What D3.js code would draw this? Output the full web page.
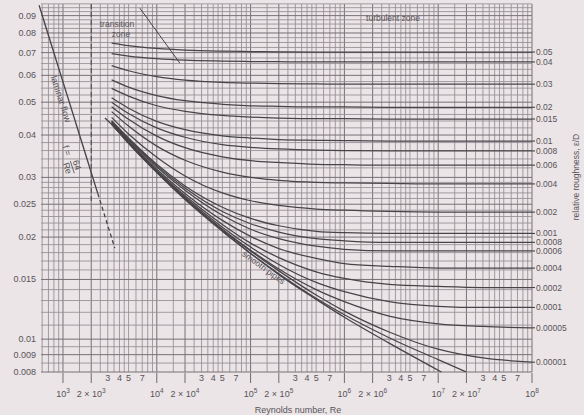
<!DOCTYPE html>
<html><head><meta charset="utf-8">
<script src="https://cdn.jsdelivr.net/npm/d3@7"></script>
<style>body{margin:0;background:#ebe5e8}svg{display:block}</style>
</head><body>
<script>
// ---------- data ----------
const reGrid = [3300, 5000, 1e4, 2e4, 5e4, 1e5, 2e5, 5e5, 1e6, 3e6, 1e7, 3e7, 1e8];
const roughLabels = ["0.05","0.04","0.03","0.02","0.015","0.01","0.008","0.006","0.004","0.002",
  "0.001","0.0008","0.0006","0.0004","0.0002","0.0001","0.00005","0.00001"];
const f_0_05    = [0.0747,0.0734,0.0720,0.0712,0.0707,0.0705,0.0704,0.0703,0.0703,0.0703,0.0703,0.0703,0.0703];
const f_0_04    = [0.0695,0.0684,0.0672,0.0665,0.0661,0.0659,0.0658,0.0657,0.0657,0.0657,0.0657,0.0657,0.0657];
const f_0_03    = [0.0641,0.0619,0.0595,0.0581,0.0572,0.0569,0.0567,0.0566,0.0565,0.0565,0.0565,0.0565,0.0565];
const f_0_02    = [0.0582,0.0554,0.0523,0.0505,0.0493,0.0488,0.0486,0.0484,0.0484,0.0483,0.0483,0.0483,0.0483];
const f_0_015   = [0.0549,0.0521,0.0488,0.0470,0.0457,0.0452,0.0449,0.0447,0.0447,0.0446,0.0446,0.0446,0.0446];
const f_0_01    = [0.0515,0.0480,0.0439,0.0415,0.0398,0.0392,0.0388,0.0386,0.0385,0.0384,0.0384,0.0384,0.0384];
const f_0_008   = [0.0500,0.0463,0.0420,0.0394,0.0375,0.0368,0.0364,0.0361,0.0360,0.0359,0.0359,0.0359,0.0359];
const f_0_006   = [0.0485,0.0445,0.0397,0.0367,0.0345,0.0336,0.0332,0.0328,0.0327,0.0326,0.0326,0.0326,0.0326];
const f_0_004   = [0.0469,0.0425,0.0371,0.0337,0.0311,0.0300,0.0294,0.0290,0.0289,0.0288,0.0287,0.0287,0.0287];
const f_0_002   = [0.0451,0.0403,0.0344,0.0303,0.0270,0.0256,0.0248,0.0242,0.0240,0.0238,0.0237,0.0237,0.0237];
const f_0_001   = [0.0441,0.0392,0.0328,0.0283,0.0245,0.0227,0.0216,0.0208,0.0206,0.0205,0.0205,0.0205,0.0205];
const f_0_0008  = [0.0439,0.0389,0.0325,0.0279,0.0238,0.0219,0.0207,0.0198,0.0195,0.0193,0.0193,0.0193,0.0193];
const f_0_0006  = [0.0437,0.0387,0.0322,0.0275,0.0232,0.0211,0.0198,0.0188,0.0184,0.0182,0.0182,0.0182,0.0182];
const f_0_0004  = [0.0435,0.0384,0.0317,0.0269,0.0224,0.0201,0.0185,0.0173,0.0167,0.0164,0.0162,0.0162,0.0162];
const f_0_0002  = [0.0433,0.0382,0.0314,0.0265,0.0218,0.0192,0.0174,0.0158,0.0151,0.0145,0.0143,0.0142,0.0142];
const f_0_0001  = [0.0431,0.0380,0.0313,0.0262,0.0214,0.0187,0.0166,0.0147,0.0138,0.0129,0.0125,0.0124,0.0124];
const f_0_00005 = [0.0431,0.0379,0.0311,0.0260,0.0211,0.0183,0.0161,0.0140,0.0129,0.0117,0.0111,0.0109,0.0108];
const f_0_00001 = [0.0431,0.0379,0.0311,0.0260,0.0210,0.0182,0.0159,0.0135,0.0121,0.0105,0.00934,0.00880,0.00855];

const reSmooth = [2800, 3300, 5000, 1e4, 2e4, 5e4, 1e5, 2e5, 5e5, 1e6, 3e6, 1.08e7];
const fSmooth  = [0.0449,0.0430,0.0378,0.0310,0.0258,0.0208,0.0179,0.0155,0.0131,0.0116,0.00973,0.0080];
const reExtra  = [5e4, 1e5, 2e5, 5e5, 1e6, 3e6, 1e7, 2e7];
const fExtra   = [0.0208,0.0179,0.0156,0.0132,0.0118,0.0101,0.0087,0.0080];

const reLaminar = [556, 2350, 3570];
const fLaminar  = [0.0966, 0.0269, 0.01855];
const reBoundary = [6600, 17600];
const fBoundary  = [0.0947, 0.0652];
const reCritical = 2000;
const fCritical  = [0.0255, 0.0974];

const leftTicks = [0.09,0.08,0.07,0.06,0.05,0.04,0.03,0.025,0.02,0.015,0.01,0.009,0.008];
const leftTickText = ["0.09","0.08","0.07","0.06","0.05","0.04","0.03","0.025","0.02","0.015","0.01","0.009","0.008"];
const decades = [3,4,5,6,7,8];
const minorDigits = [3,4,5,7];
const gridMult = [1,1.5,2,2.5,3,3.5,4,4.5,5,6,7,8,9];

// ---------- setup ----------
const W = 584, H = 415;
const FONT = "'Liberation Sans', Arial, sans-serif";
const TXT = "#585357";
const svg = d3.select("body").append("svg").attr("width", W).attr("height", H)
  .style("font-family", FONT);
svg.append("rect").attr("width", W).attr("height", H).attr("fill", "#ebe5e8");

const x = d3.scaleLog().domain([583, 1e8]).range([41, 532]);
const y = d3.scaleLog().domain([0.008, 0.0974]).range([372, 4]);
const [x0, x1] = x.range(), [yb, yt] = y.range();

// ---------- grid ----------
const vgrid = [];
for (let k = 2; k <= 8; k++) for (const m of gridMult) {
  const v = m * Math.pow(10, k);
  if (v >= 583 && v <= 1e8) vgrid.push({v, major: m === 1 || m === 2});
}
const hgrid = [];
function addRange(a, b, s) { for (let v = a; v <= b + 1e-9; v += s) hgrid.push(+v.toFixed(5)); }
addRange(0.008, 0.0095, 0.0005);
addRange(0.010, 0.029, 0.001);
addRange(0.030, 0.048, 0.002);
addRange(0.050, 0.0975, 0.0025);
const isMajorF = d => leftTicks.some(t => Math.abs(t - d) < 1e-7);

const g = svg.append("g");
g.selectAll("line.v").data(vgrid).join("line")
  .attr("x1", d => x(d.v)).attr("x2", d => x(d.v)).attr("y1", yt).attr("y2", yb)
  .attr("stroke", d => d.major ? "#767075" : "#938d92").attr("stroke-width", d => d.major ? 1 : 0.85);
g.selectAll("line.h").data(hgrid).join("line")
  .attr("x1", x0).attr("x2", x1).attr("y1", d => y(d)).attr("y2", d => y(d))
  .attr("stroke", d => isMajorF(d) ? "#767075" : "#938d92")
  .attr("stroke-width", d => isMajorF(d) ? 1 : 0.85);

// ---------- curves ----------
const curveArrays = [f_0_05,f_0_04,f_0_03,f_0_02,f_0_015,f_0_01,f_0_008,f_0_006,f_0_004,f_0_002,
  f_0_001,f_0_0008,f_0_0006,f_0_0004,f_0_0002,f_0_0001,f_0_00005,f_0_00001];
const line = d3.line().x(d => x(d[0])).y(d => y(d[1])).curve(d3.curveMonotoneX);
const CURVE = "#474447";
curveArrays.forEach((arr, i) => {
  const pts = reGrid.map((r, j) => [r, arr[j]]);
  svg.append("path").attr("d", line(pts)).attr("fill", "none")
    .attr("stroke", CURVE).attr("stroke-width", 1.25);
  const ye = y(arr[arr.length - 1]);
  svg.append("line").attr("x1", x1).attr("x2", x1 + 3).attr("y1", ye).attr("y2", ye)
    .attr("stroke", CURVE).attr("stroke-width", 1.1);
  svg.append("text").attr("x", x1 + 4).attr("y", ye + 3).attr("font-size", 8.5)
    .attr("fill", TXT).text(roughLabels[i]);
});
svg.append("path").attr("d", line(reSmooth.map((r, j) => [r, fSmooth[j]])))
  .attr("fill", "none").attr("stroke", CURVE).attr("stroke-width", 1.3);
svg.append("path").attr("d", line(reExtra.map((r, j) => [r, fExtra[j]])))
  .attr("fill", "none").attr("stroke", CURVE).attr("stroke-width", 1.2);

// laminar line (solid then dashed)
const straight = d3.line().x(d => x(d[0])).y(d => y(d[1]));
svg.append("path").attr("d", straight([[reLaminar[0], fLaminar[0]], [reLaminar[1], fLaminar[1]]]))
  .attr("stroke", CURVE).attr("stroke-width", 1.3).attr("fill", "none");
svg.append("path").attr("d", straight([[reLaminar[1], fLaminar[1]], [reLaminar[2], fLaminar[2]]]))
  .attr("stroke", CURVE).attr("stroke-width", 1.3).attr("fill", "none").attr("stroke-dasharray", "4,3");
// critical zone dashed vertical
svg.append("line").attr("x1", x(reCritical)).attr("x2", x(reCritical))
  .attr("y1", y(fCritical[1])).attr("y2", y(fCritical[0]))
  .attr("stroke", CURVE).attr("stroke-width", 1).attr("stroke-dasharray", "5,3");
// transition / turbulent boundary
svg.append("path").attr("d", straight(reBoundary.map((r, j) => [r, fBoundary[j]])))
  .attr("stroke", CURVE).attr("stroke-width", 1).attr("fill", "none");

// ---------- axes ----------
svg.selectAll("text.yl").data(leftTicks).join("text")
  .attr("x", 36).attr("y", d => y(d) + 3).attr("text-anchor", "end")
  .attr("font-size", 9).attr("fill", TXT).text((d, i) => leftTickText[i]);

const supers = {3:"3",4:"4",5:"5",6:"6",7:"7",8:"8"};
decades.forEach(k => {
  const v = Math.pow(10, k);
  svg.append("line").attr("x1", x(v)).attr("x2", x(v)).attr("y1", 373).attr("y2", 383)
    .attr("stroke", "#6f6a6e").attr("stroke-width", 1);
  const t = svg.append("text").attr("x", x(v)).attr("y", 397).attr("text-anchor", "middle")
    .attr("font-size", 9).attr("fill", TXT);
  t.append("tspan").text("10");
  t.append("tspan").attr("dy", -4).attr("font-size", 6.5).text(supers[k]);
  if (k < 8) {
    const v2 = 2 * v;
    svg.append("line").attr("x1", x(v2)).attr("x2", x(v2)).attr("y1", 373).attr("y2", 383)
      .attr("stroke", "#6f6a6e").attr("stroke-width", 1);
    const t2 = svg.append("text").attr("x", x(v2)).attr("y", 397).attr("text-anchor", "middle")
      .attr("font-size", 9).attr("fill", TXT);
    t2.append("tspan").text("2 \u00d7 10");
    t2.append("tspan").attr("dy", -4).attr("font-size", 6.5).text(supers[k]);
    minorDigits.forEach(m => {
      svg.append("text").attr("x", x(m * v)).attr("y", 381).attr("text-anchor", "middle")
        .attr("font-size", 9).attr("fill", TXT).text(m);
    });
  }
});
svg.append("text").attr("x", 298).attr("y", 413).attr("text-anchor", "middle")
  .attr("font-size", 9).attr("fill", TXT).text("Reynolds number, Re");

svg.append("text").attr("transform", "translate(579,177) rotate(-90)").attr("text-anchor", "middle")
  .attr("font-size", 8.5).attr("fill", TXT).text("relative roughness, \u03b5/D");

// ---------- annotations ----------
svg.append("text").attr("x", 117).attr("y", 27).attr("text-anchor", "middle")
  .attr("font-size", 8.5).attr("fill", TXT).text("transition");
svg.append("text").attr("x", 121).attr("y", 37).attr("text-anchor", "middle")
  .attr("font-size", 8.5).attr("fill", TXT).text("zone");
svg.append("text").attr("x", 393).attr("y", 21).attr("text-anchor", "middle")
  .attr("font-size", 8.5).attr("fill", TXT).text("turbulent zone");
svg.append("text").attr("transform", "translate(58,100) rotate(72)").attr("text-anchor", "middle")
  .attr("font-size", 9).attr("fill", TXT).text("laminar flow");
const fr = svg.append("g").attr("transform", "translate(70,160) rotate(72)")
  .attr("font-size", 9).attr("fill", TXT);
fr.append("text").attr("x", -10).attr("y", 3).attr("text-anchor", "middle").text("f =");
fr.append("text").attr("x", 7).attr("y", -2).attr("text-anchor", "middle").text("64");
fr.append("line").attr("x1", 1).attr("x2", 14).attr("y1", 0).attr("y2", 0).attr("stroke", TXT).attr("stroke-width", 0.8);
fr.append("text").attr("x", 7).attr("y", 8).attr("text-anchor", "middle").text("Re");
svg.append("text").attr("transform", "translate(262,270) rotate(36)").attr("text-anchor", "middle")
  .attr("font-size", 8.5).attr("fill", TXT).text("smooth pipes");
</script>
</body></html>
